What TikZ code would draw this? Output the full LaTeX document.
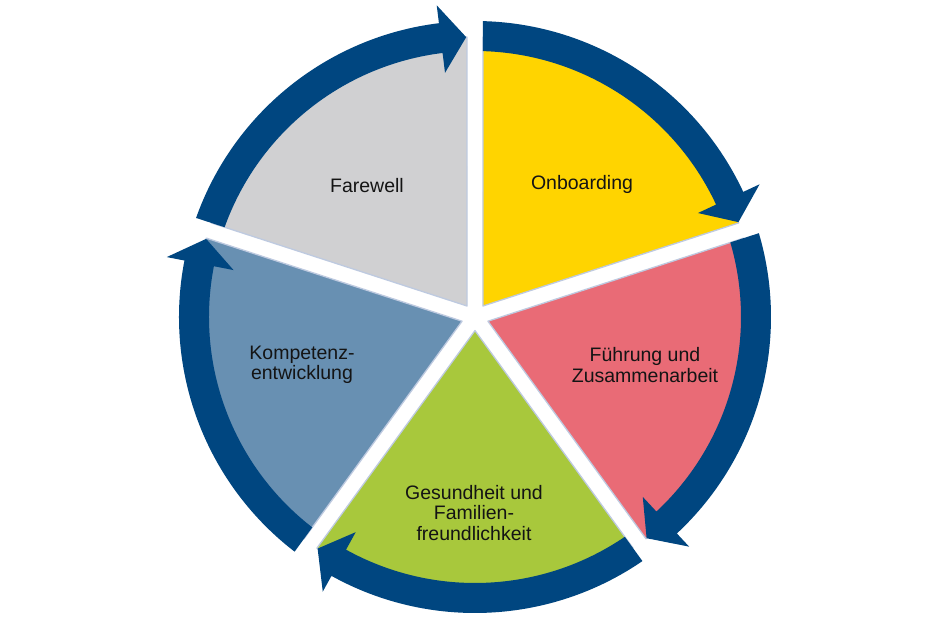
\documentclass[tikz,border=0pt]{standalone}
\usepackage{fontspec}
\setmainfont{Liberation Sans}
\definecolor{ringblue}{RGB}{0,70,128}
\definecolor{cyellow}{RGB}{255,212,0}
\definecolor{cred}{RGB}{233,107,118}
\definecolor{cgreen}{RGB}{168,200,60}
\definecolor{cblue}{RGB}{104,144,178}
\definecolor{cgrey}{RGB}{208,208,210}
\definecolor{edgecol}{RGB}{190,202,224}
\definecolor{txt}{RGB}{20,20,20}
\tikzset{
  sector/.style={draw=edgecol, line width=1.3pt, line join=round},
  ringarrow/.style={fill=ringblue},
  label/.style={align=center, text=txt, inner sep=0pt, font=\fontsize{19.5}{20.5}\selectfont}
}
\begin{document}
\begin{tikzpicture}[x=1pt,y=1pt]
\useasboundingbox (-475,-327) rectangle (472,317);
\fill[white] (-475,-327) rectangle (472,317);
% sectors
\foreach \aa/\ab/\col/\nm in {90/18/cyellow/s1, 18/-54/cred/s2, -54/-126/cgreen/s3, -126/-198/cblue/s4, -198/-270/cgrey/s5} {
  \pgfmathsetmacro\bis{(\aa+\ab)/2}
  \pgfmathsetmacro\st{\aa-1.64}
  \pgfmathsetmacro\en{\ab+1.64}
  \path[sector, fill=\col] (\bis:13.6) coordinate (\nm) -- (\st:280) arc[start angle=\st, end angle=\en, radius=280] -- cycle;
}
% ring arrows
\foreach \aa/\ab in {90/18, 18/-54, -54/-126, -126/-198, -198/-270} {
  \pgfmathsetmacro\angso{\aa-1.55}
  \pgfmathsetmacro\angsi{\aa-1.72}
  \pgfmathsetmacro\angbase{\ab+7}
  \pgfmathsetmacro\angtip{\ab+1.8}
  \path[ringarrow] (\angso:296) arc[start angle=\angso, end angle=\angbase, radius=296]
    -- (\angbase:314) -- (\angtip:280) -- (\angbase:246) -- (\angbase:266)
    arc[start angle=\angbase, end angle=\angsi, radius=266] -- cycle;
}
% labels
\node[label] (onb) at (107,133) {Onboarding};
\node[label] (fare) at (-108,131) {Farewell};
\node[label] (fuehr) at (170,-48) {Führung und\\Zusammenarbeit};
\node[label] (komp) at (-173,-48) {Kompetenz-\\entwicklung};
\node[label] (ges) at (-1,-196) {Gesundheit und\\Familien-\\freundlichkeit};
\end{tikzpicture}
\end{document}
